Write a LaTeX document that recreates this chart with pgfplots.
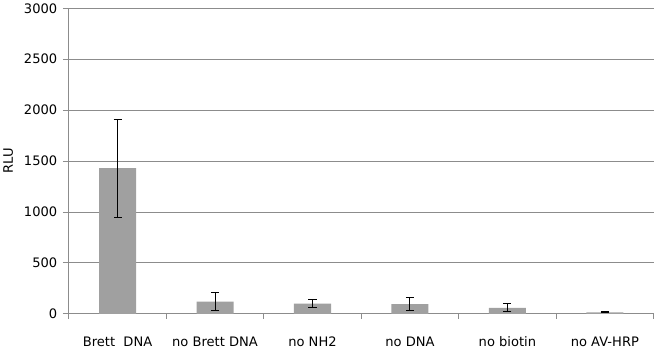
\documentclass[border=0pt]{standalone}
\usepackage{pgfplots}
\pgfplotsset{compat=1.18}
\usepackage{fontspec}
\setmainfont{DejaVu Sans}
\definecolor{barg}{RGB}{160,160,160}
\definecolor{axg}{RGB}{140,140,140}
\begin{document}
\begin{tikzpicture}
\begin{axis}[
  scale only axis, width=580bp, height=303bp,
  xmin=-0.5, xmax=5.5, ymin=0, ymax=3000,
  axis x line*=bottom, axis y line*=left,
  axis line style={axg, line width=0.8pt},
  xtick={0,...,5},
  xticklabels={Brett\ \ DNA, no Brett DNA, no NH2, no DNA, no biotin, no AV-HRP},
  major x tick style={draw=none},
  minor xtick={-0.5,0.5,...,5.5},
  minor x tick style={axg, line width=0.8pt},
  minor tick length=5bp,
  ytick={0,500,...,3000},
  y tick style={axg, line width=0.8pt},
  major tick length=6bp,
  tick align=outside,
  ymajorgrids, grid style={axg, line width=0.8pt},
  tick label style={font=\fontsize{13}{15}\selectfont},
  ylabel={RLU}, ylabel style={font=\fontsize{13}{15}\selectfont, yshift=4bp},
  /pgf/number format/assume math mode=true,
  /pgf/number format/1000 sep={},
  xticklabel style={yshift=-13bp},
  yticklabel style={xshift=-2bp},
]
\addplot[ybar, bar width=0.38, fill=barg, draw=none,
  error bars/.cd, y dir=both, y explicit,
  error bar style={black, line width=1pt},
  error mark options={rotate=90, black, mark size=4bp, line width=1pt}]
  coordinates {
  (0,1430) +- (0,480)
  (1,120) +- (0,85)
  (2,100) +- (0,43)
  (3,95) +- (0,62)
  (4,58) +- (0,40)
  (5,15) +- (0,5)
};
\end{axis}
\end{tikzpicture}
\end{document}
